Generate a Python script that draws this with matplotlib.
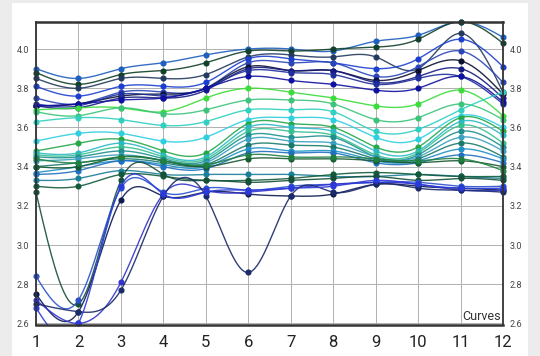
import numpy as np
import matplotlib.pyplot as plt
from matplotlib.patches import Rectangle

plt.rcParams['font.family'] = ['Roboto', 'DejaVu Sans']

x = np.arange(1, 13)
yticks = [2.6, 2.8, 3.0, 3.2, 3.4, 3.6, 3.8, 4.0]

# upper group (blues / dark)
u1 = [3.90, 3.85, 3.90, 3.93, 3.97, 4.00, 4.00, 3.99, 4.04, 4.07, 4.14, 4.06]
u2 = [3.88, 3.82, 3.87, 3.89, 3.93, 3.99, 3.99, 4.00, 4.01, 4.05, 4.14, 4.03]
u3 = [3.85, 3.80, 3.85, 3.85, 3.87, 3.96, 3.97, 3.96, 3.96, 3.90, 4.08, 3.78]
u4 = [3.81, 3.76, 3.81, 3.81, 3.83, 3.95, 3.95, 3.93, 3.90, 3.95, 4.05, 3.91]
u5 = [3.75, 3.72, 3.78, 3.78, 3.80, 3.93, 3.93, 3.93, 3.86, 3.91, 3.99, 3.83]
u6 = [3.71, 3.72, 3.76, 3.77, 3.80, 3.91, 3.89, 3.89, 3.84, 3.89, 3.94, 3.77]
u7 = [3.71, 3.70, 3.75, 3.75, 3.79, 3.90, 3.89, 3.89, 3.83, 3.86, 3.90, 3.75]
u8 = [3.72, 3.71, 3.77, 3.76, 3.80, 3.89, 3.88, 3.87, 3.82, 3.85, 3.86, 3.72]
u9 = [3.71, 3.72, 3.74, 3.75, 3.80, 3.86, 3.84, 3.82, 3.79, 3.80, 3.86, 3.73]

# middle group (greens / cyans)
m1 = [3.69, 3.70, 3.70, 3.68, 3.75, 3.80, 3.78, 3.75, 3.71, 3.72, 3.79, 3.66]
m2 = [3.68, 3.66, 3.70, 3.67, 3.69, 3.74, 3.74, 3.72, 3.64, 3.65, 3.72, 3.64]
m3 = [3.63, 3.65, 3.64, 3.61, 3.63, 3.69, 3.69, 3.68, 3.58, 3.59, 3.69, 3.78]
m4 = [3.53, 3.57, 3.57, 3.53, 3.55, 3.64, 3.65, 3.64, 3.55, 3.54, 3.66, 3.60]
m5 = [3.48, 3.52, 3.54, 3.48, 3.47, 3.62, 3.62, 3.60, 3.50, 3.50, 3.65, 3.58]
m6 = [3.47, 3.47, 3.52, 3.46, 3.45, 3.60, 3.60, 3.58, 3.48, 3.48, 3.63, 3.56]
m7 = [3.46, 3.46, 3.50, 3.45, 3.44, 3.58, 3.58, 3.56, 3.46, 3.47, 3.61, 3.52]
m8 = [3.45, 3.45, 3.48, 3.44, 3.43, 3.56, 3.55, 3.55, 3.45, 3.46, 3.58, 3.50]
m9 = [3.43, 3.44, 3.46, 3.43, 3.42, 3.54, 3.53, 3.52, 3.45, 3.45, 3.55, 3.48]
m10 = [3.40, 3.42, 3.44, 3.42, 3.41, 3.51, 3.51, 3.50, 3.44, 3.44, 3.52, 3.45]
m11 = [3.37, 3.40, 3.43, 3.41, 3.40, 3.49, 3.48, 3.48, 3.43, 3.43, 3.49, 3.44]
m12 = [3.36, 3.38, 3.43, 3.40, 3.39, 3.47, 3.47, 3.47, 3.42, 3.42, 3.46, 3.42]
m13 = [3.40, 3.40, 3.45, 3.43, 3.40, 3.44, 3.44, 3.44, 3.43, 3.42, 3.43, 3.40]
m14 = [3.44, 3.42, 3.45, 3.43, 3.41, 3.46, 3.45, 3.45, 3.44, 3.43, 3.44, 3.38]

# lower group
l1 = [3.33, 3.34, 3.38, 3.36, 3.36, 3.36, 3.36, 3.35, 3.35, 3.36, 3.35, 3.34]
l2 = [3.30, 3.30, 3.36, 3.35, 3.33, 3.33, 3.34, 3.36, 3.37, 3.36, 3.35, 3.35]
d1 = [3.27, 2.70, 3.33, 3.36, 3.33, 3.32, 3.33, 3.34, 3.35, 3.33, 3.34, 3.33]
d2 = [2.84, 2.72, 3.29, 3.27, 3.29, 3.28, 3.30, 3.31, 3.32, 3.32, 3.30, 3.30]
d3 = [2.75, 2.66, 3.23, 3.25, 3.27, 3.26, 3.25, 3.26, 3.31, 3.30, 3.29, 3.28]
d4 = [2.72, 2.60, 2.81, 3.26, 3.28, 3.27, 3.29, 3.31, 3.32, 3.31, 3.28, 3.28]
d5 = [2.70, 2.66, 2.77, 3.25, 3.25, 2.86, 3.25, 3.27, 3.31, 3.29, 3.28, 3.27]
d6 = [2.68, 2.60, 3.30, 3.26, 3.27, 3.28, 3.29, 3.30, 3.33, 3.31, 3.29, 3.29]

series = [
    (u1, '#1f5fbf'), (u2, '#12402a'), (u3, '#233a5e'), (u4, '#1a3fd0'),
    (u5, '#2a45b8'), (u6, '#0b1030'), (u7, '#141a80'), (u8, '#1f2f9a'),
    (u9, '#1010a0'),
    (m1, '#3bdc3b'), (m2, '#3cc47a'), (m3, '#2fd0c0'), (m4, '#2ecfe0'),
    (m5, '#25a84a'), (m6, '#2cb8c8'), (m7, '#35c090'), (m8, '#1f8f8f'),
    (m9, '#3aa0c0'), (m10, '#1a7a6a'), (m11, '#2090c8'), (m12, '#1f70c0'),
    (m13, '#155a30'), (m14, '#208040'),
    (l1, '#1a7f9a'), (l2, '#135a3a'),
    (d1, '#16503a'), (d2, '#2a50d0'), (d3, '#0d1a50'), (d4, '#3333cc'),
    (d5, '#1a2a6a'), (d6, '#2a3ad8'),
]


def natural_spline(xs, ys, xn):
    xs = np.asarray(xs, float)
    ys = np.asarray(ys, float)
    n = len(xs)
    h = np.diff(xs)
    A = np.zeros((n, n))
    b = np.zeros(n)
    A[0, 0] = 1
    A[-1, -1] = 1
    for i in range(1, n - 1):
        A[i, i - 1] = h[i - 1]
        A[i, i] = 2 * (h[i - 1] + h[i])
        A[i, i + 1] = h[i]
        b[i] = 6 * ((ys[i + 1] - ys[i]) / h[i] - (ys[i] - ys[i - 1]) / h[i - 1])
    M = np.linalg.solve(A, b)
    idx = np.clip(np.searchsorted(xs, xn) - 1, 0, n - 2)
    x0 = xs[idx]
    x1 = xs[idx + 1]
    hh = x1 - x0
    t0 = x1 - xn
    t1 = xn - x0
    return (M[idx] * t0 ** 3 / (6 * hh) + M[idx + 1] * t1 ** 3 / (6 * hh)
            + (ys[idx] / hh - M[idx] * hh / 6) * t0
            + (ys[idx + 1] / hh - M[idx + 1] * hh / 6) * t1)


fig = plt.figure(figsize=(5.4, 3.56), dpi=100, facecolor='#ececec')
fig.add_artist(Rectangle((12 / 540, 0), 516 / 540, 353 / 356,
                         transform=fig.transFigure, facecolor='white',
                         edgecolor='none', zorder=-10))
ax = fig.add_axes([36 / 540, 31 / 356, 467 / 540, 303 / 356])
ax.set_facecolor('white')

xf = np.linspace(1, 12, 400)
for ys, c in series:
    ax.plot(xf, natural_spline(x, ys, xf), color=c, lw=1.0, alpha=0.9, clip_on=True)
    ax.plot(x, ys, 'o', color=c, ms=3.4, clip_on=False)

ax.set_xlim(1, 12)
ax.set_ylim(2.592, 4.138)
ax.set_xticks(x)
ax.set_yticks(yticks)
ax.grid(True, color='#b0b0b0', lw=0.7)
ax.set_axisbelow(True)
ax.tick_params(axis='x', length=0, pad=7, labelsize=12, colors='#222222')
ax.tick_params(axis='y', length=0, pad=5, labelsize=6.5, colors='#444444',
               labelleft=True, labelright=True)
for s in ['top', 'bottom']:
    ax.spines[s].set_linewidth(1.8)
    ax.spines[s].set_color('#333333')
for s in ['left', 'right']:
    ax.spines[s].set_linewidth(1.3)
    ax.spines[s].set_color('#333333')

ax.text(0.995, 0.008, 'Curves', transform=ax.transAxes, ha='right', va='bottom',
        fontsize=9, color='#333333')

fig.savefig('out.png', dpi=100, facecolor=fig.get_facecolor())
